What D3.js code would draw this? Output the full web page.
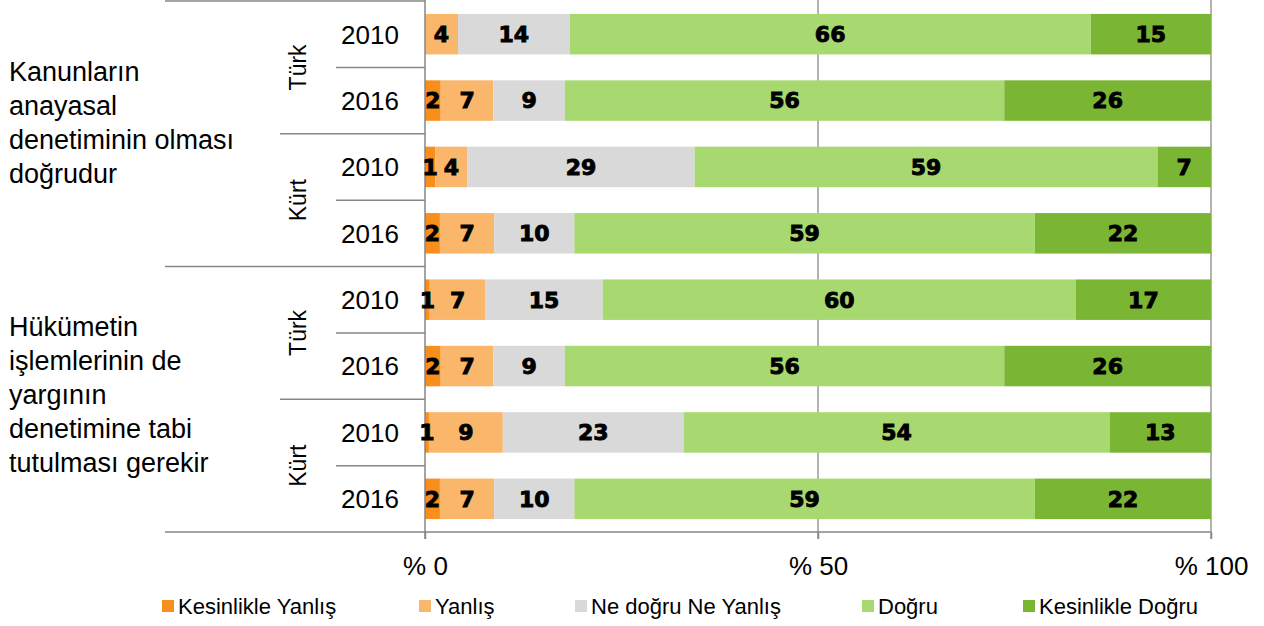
<!DOCTYPE html>
<html>
<head>
<meta charset="utf-8">
<script src="https://cdn.jsdelivr.net/npm/d3@7"></script>
<style>
  body { margin: 0; background: #fff; }
  svg { display: block; }
</style>
</head>
<body>
<script>
// data
var questions = [
  ["Kanunların", "anayasal", "denetiminin olması", "doğrudur"],
  ["Hükümetin", "işlemlerinin de", "yargının", "denetimine tabi", "tutulması gerekir"]
];
var groups = ["Türk", "Kürt"];
var years = ["2010", "2016"];
var seriesNames = ["Kesinlikle Yanlış", "Yanlış", "Ne doğru Ne Yanlış", "Doğru", "Kesinlikle Doğru"];
var seriesColors = ["#f88f1c", "#fab66a", "#d9d9d9", "#a8d970", "#7bb534"];

var kesinlikleYanlis = [0, 2.0, 1.3, 1.9, 0.6, 2.0, 0.5, 1.9];
var yanlis           = [4.2, 6.7, 4.1, 6.9, 7.1, 6.7, 9.4, 6.9];
var neDogruNeYanlis  = [14.2, 9.1, 28.9, 10.2, 14.9, 9.1, 23.0, 10.2];
var dogru            = [66.3, 55.9, 58.9, 58.6, 60.2, 55.9, 54.2, 58.6];
var kesinlikleDogru  = [15.3, 26.3, 6.8, 22.4, 17.2, 26.3, 12.9, 22.4];

var xTicks = [0, 50, 100];
var xTickLabels = ["% 0", "% 50", "% 100"];

var width = 1264, height = 626;
var textFont = "'Liberation Sans', Arial, sans-serif";

// build rows
var rows = [];
questions.forEach(function(q, qi) {
  groups.forEach(function(g, gi) {
    years.forEach(function(y, yi) {
      rows.push({ id: qi + "-" + g + "-" + y, question: qi, group: g, year: y });
    });
  });
});
var allSeries = [kesinlikleYanlis, yanlis, neDogruNeYanlis, dogru, kesinlikleDogru];
rows.forEach(function(r, i) {
  seriesNames.forEach(function(s, si) { r[s] = allSeries[si][i]; });
});

var stacked = d3.stack().keys(seriesNames)(rows);

var x = d3.scaleLinear().domain([0, 100]).range([425, 1211]);
var y = d3.scaleBand()
  .domain(rows.map(function(d) { return d.id; }))
  .range([1, 532])
  .paddingInner(0.39)
  .paddingOuter(0.195);
var step = y.step();
var bandCenter = function(id) { return y(id) + y.bandwidth() / 2; };

var svg = d3.select("body").append("svg")
  .attr("width", width)
  .attr("height", height);

// gridlines
svg.append("g")
  .selectAll("line")
  .data(xTicks.slice(1))
  .join("line")
  .attr("x1", function(d) { return x(d); })
  .attr("x2", function(d) { return x(d); })
  .attr("y1", 0)
  .attr("y2", 539)
  .style("stroke", "#8a8a8a")
  .style("stroke-width", 1.3);

// bars
var layer = svg.append("g")
  .selectAll("g")
  .data(stacked)
  .join("g")
  .style("fill", function(d, i) { return seriesColors[i]; });

layer.selectAll("rect")
  .data(function(d) { return d; })
  .join("rect")
  .attr("x", function(d) { return x(d[0]); })
  .attr("width", function(d) { return x(d[1]) - x(d[0]); })
  .attr("y", function(d) { return y(d.data.id); })
  .attr("height", y.bandwidth());

// axes
var xAxis = d3.axisBottom(x)
  .tickValues(xTicks)
  .tickSize(7)
  .tickFormat(function(d, i) { return xTickLabels[i]; });

var gx = svg.append("g")
  .attr("transform", "translate(0,532)")
  .call(xAxis);
gx.select(".domain").remove();
gx.selectAll(".tick line").style("stroke", "#868686").style("stroke-width", 1.5);
gx.selectAll(".tick text")
  .attr("y", 43)
  .attr("dy", 0)
  .style("font-family", textFont)
  .style("font-size", "26px")
  .style("fill", "#000");

var axisLines = svg.append("g")
  .style("stroke", "#868686")
  .style("stroke-width", 1.5);

axisLines.append("line")
  .attr("x1", x(0)).attr("x2", x(100))
  .attr("y1", 532).attr("y2", 532);
axisLines.append("line")
  .attr("x1", x(0)).attr("x2", x(0))
  .attr("y1", 0).attr("y2", 539);

// category separators
var ids = y.domain();
var boundaries = d3.range(ids.length + 1).map(function(i) {
  var level = i % 4 === 0 ? 165 : (i % 2 === 0 ? 280 : 336);
  return { y: i === 0 ? 1 : y(ids[i - 1]) + y.bandwidth() + step * 0.195, x0: level };
});
axisLines.selectAll(".sep")
  .data(boundaries)
  .join("line")
  .attr("class", "sep")
  .attr("x1", function(d) { return d.x0; })
  .attr("x2", x(0))
  .attr("y1", function(d) { return d.y; })
  .attr("y2", function(d) { return d.y; });

// bar labels
var labels = svg.append("g")
  .style("font-family", "'DejaVu Sans', sans-serif")
  .style("font-weight", "bold")
  .style("font-size", "22px")
  .style("fill", "#000")
  .style("stroke", "#000")
  .style("stroke-width", 0.9)
  .attr("text-anchor", "middle");

stacked.forEach(function(s) {
  s.forEach(function(d) {
    var v = Math.round(d[1] - d[0]);
    if (v < 1) return;
    labels.append("text")
      .attr("x", (x(d[0]) + x(d[1])) / 2)
      .attr("y", bandCenter(d.data.id))
      .attr("dy", "0.36em")
      .text(v);
  });
});

// year labels
svg.append("g")
  .selectAll("text")
  .data(rows)
  .join("text")
  .attr("x", 370)
  .attr("y", function(d) { return bandCenter(d.id); })
  .attr("dy", "0.36em")
  .attr("text-anchor", "middle")
  .style("font-family", textFont)
  .style("font-size", "26px")
  .text(function(d) { return d.year; });

// group labels (rotated)
var groupRows = rows.filter(function(d, i) { return i % 2 === 0; });
svg.append("g")
  .selectAll("text")
  .data(groupRows)
  .join("text")
  .attr("transform", function(d) {
    return "translate(306," + (y(d.id) + step * 0.805) + ") rotate(-90)";
  })
  .attr("text-anchor", "middle")
  .style("font-family", textFont)
  .style("font-size", "23px")
  .text(function(d) { return d.group; });

// question labels
var lineHeight = 34;
var lineShift = [-2, 5];
questions.forEach(function(lines, qi) {
  var first = rows[qi * 4].id, last = rows[qi * 4 + 3].id;
  var cy = (y(first) + y(last) + y.bandwidth()) / 2;
  var t = svg.append("text")
    .style("font-family", textFont)
    .style("font-size", "27px")
    .style("fill", "#000");
  lines.forEach(function(l, li) {
    t.append("tspan")
      .attr("x", 9)
      .attr("y", cy + (li - (lines.length - 1) / 2) * lineHeight + lineShift[qi])
      .text(l);
  });
});

// legend
var legendX = [162, 419, 575, 862, 1023];
var legend = svg.append("g")
  .selectAll("g")
  .data(seriesNames)
  .join("g")
  .attr("transform", function(d, i) { return "translate(" + legendX[i] + ",600)"; });

legend.append("rect")
  .attr("width", 12)
  .attr("height", 12)
  .style("fill", function(d, i) { return seriesColors[i]; });

legend.append("text")
  .attr("x", 16)
  .attr("y", 14)
  .style("font-family", textFont)
  .style("font-size", "22px")
  .text(function(d) { return d; });
</script>
</body>
</html>
